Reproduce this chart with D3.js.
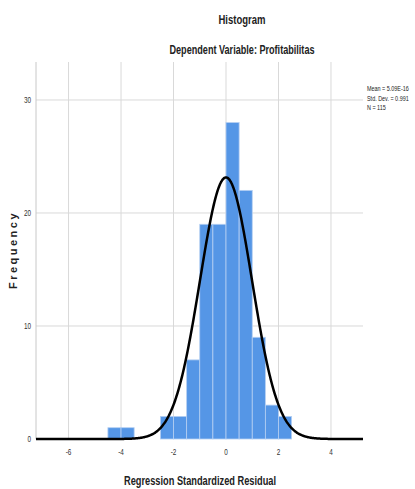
<!DOCTYPE html>
<html>
<head>
<meta charset="utf-8">
<script src="https://cdn.jsdelivr.net/npm/d3@7"></script>
<style>
  body { margin: 0; background: #fff; }
  text { font-family: "Liberation Sans Narrow", "Liberation Sans", Arial, sans-serif; }
</style>
</head>
<body>
<script>
// bins of width 0.5, lower edges
let binStarts = [-4.5, -4, -2.5, -2, -1.5, -1, -0.5, 0, 0.5, 1, 1.5, 2];
let binCounts = [1, 1, 2, 2, 7, 19, 19, 28, 22, 9, 3, 2];
let binWidth = 0.5;
let xTicks = [-6, -4, -2, 0, 2, 4];
let yTicks = [0, 10, 20, 30];
let stats = ["Mean = 5.09E-16", "Std. Dev. = 0.991", "N = 115"];
let mean = 5.09e-16, sd = 0.991, n = 115;

let svgWidth = 415;
let svgHeight = 489;

let svg = d3.select('body')
  .append('svg')
  .attr('width', svgWidth)
  .attr('height', svgHeight);

let x = d3.scaleLinear()
  .domain([-7.24, 5.22])
  .range([36, 363]);

let y = d3.scaleLinear()
  .domain([0, 33.36])
  .range([439, 62]);

// grid
svg.append('g')
  .selectAll('line')
  .data(xTicks)
  .enter()
  .append('line')
  .attr('x1', d => x(d)).attr('x2', d => x(d))
  .attr('y1', y.range()[1]).attr('y2', y(0))
  .attr('stroke', '#d9d9d9')
  .attr('stroke-width', 1);

svg.append('g')
  .selectAll('line')
  .data(yTicks.filter(d => d > 0))
  .enter()
  .append('line')
  .attr('x1', x.range()[0]).attr('x2', x.range()[1])
  .attr('y1', d => y(d)).attr('y2', d => y(d))
  .attr('stroke', '#d9d9d9')
  .attr('stroke-width', 1);

// left axis line
svg.append('line')
  .attr('x1', x.range()[0]).attr('x2', x.range()[0])
  .attr('y1', y.range()[1]).attr('y2', y(0))
  .attr('stroke', '#c8c8c8')
  .attr('stroke-width', 1);

// bars
svg.append('g')
  .selectAll('rect')
  .data(binStarts)
  .enter()
  .append('rect')
  .attr('x', d => x(d))
  .attr('width', d => x(d + binWidth) - x(d))
  .attr('y', (d, i) => y(binCounts[i]))
  .attr('height', (d, i) => y(0) - y(binCounts[i]))
  .attr('fill', '#5596e6')
  .attr('stroke', '#b5cff2')
  .attr('stroke-width', 0.8);

// normal curve
let curvePts = d3.range(x.domain()[0], x.domain()[1] + 0.001, 0.02);
let line = d3.line()
  .x(d => x(d))
  .y(d => y(n * binWidth * Math.exp(-0.5 * Math.pow((d - mean) / sd, 2)) / (sd * Math.sqrt(2 * Math.PI))))
  .curve(d3.curveBasis);

svg.append('path')
  .datum(curvePts)
  .attr('d', line)
  .attr('fill', 'none')
  .attr('stroke', '#000')
  .attr('stroke-width', 2.5);

// tick labels (condensed look)
svg.append('g')
  .selectAll('text')
  .data(yTicks)
  .enter()
  .append('text')
  .attr('transform', d => `translate(31, ${y(d) + 3}) scale(0.75, 1)`)
  .attr('text-anchor', 'end')
  .attr('font-size', '8.5px')
  .attr('fill', '#333')
  .text(d => d);

svg.append('g')
  .selectAll('text')
  .data(xTicks)
  .enter()
  .append('text')
  .attr('transform', d => `translate(${x(d)}, 455) scale(0.75, 1)`)
  .attr('text-anchor', 'middle')
  .attr('font-size', '8.5px')
  .attr('fill', '#333')
  .text(d => d);

// titles
function title(txt, cx, cy, size, len) {
  svg.append('text')
    .attr('x', cx - len / 2).attr('y', cy)
    .attr('font-size', size)
    .attr('font-weight', 'bold')
    .attr('fill', '#222')
    .attr('textLength', len)
    .attr('lengthAdjust', 'spacingAndGlyphs')
    .text(txt);
}
title('Histogram', 242, 24, '13px', 47);
title('Dependent Variable: Profitabilitas', 242, 54, '12.5px', 145);
title('Regression Standardized Residual', 200, 485, '12.5px', 152);

svg.append('text')
  .attr('transform', 'translate(17, 250) rotate(-90)')
  .attr('text-anchor', 'middle')
  .attr('font-family', '"Liberation Sans", Arial, sans-serif')
  .attr('font-size', '11px')
  .attr('font-weight', 'bold')
  .attr('letter-spacing', '2.5px')
  .attr('fill', '#222')
  .text('Frequency');

// stats box
svg.append('g')
  .selectAll('text')
  .data(stats)
  .enter()
  .append('text')
  .attr('transform', (d, i) => `translate(367, ${91 + i * 9.5}) scale(0.68, 1)`)
  .attr('font-size', '8px')
  .attr('fill', '#222')
  .text(d => d);
</script>
</body>
</html>
